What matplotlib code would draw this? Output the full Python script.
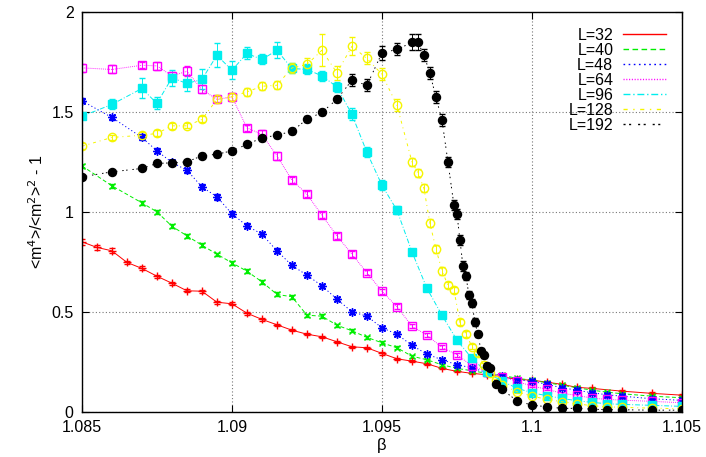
import numpy as np
import matplotlib
matplotlib.use('Agg')
import matplotlib.pyplot as plt
from matplotlib.lines import Line2D

plt.rcParams['font.family'] = ['Liberation Sans', 'DejaVu Sans']

# beta grids
beta_coarse = [1.085, 1.086, 1.087, 1.0875, 1.088, 1.0885, 1.089, 1.0895, 1.09, 1.0905,
               1.091, 1.0915, 1.092, 1.0925, 1.093, 1.0935, 1.094, 1.0945, 1.095, 1.0955, 1.096]
beta_tail = [1.0995, 1.1, 1.1005, 1.101, 1.1015, 1.102, 1.1025, 1.103, 1.104, 1.105]

beta_32 = [1.085, 1.0855, 1.086, 1.0865, 1.087, 1.0875, 1.088, 1.0885, 1.089, 1.0895, 1.09,
           1.0905, 1.091, 1.0915, 1.092, 1.0925, 1.093, 1.0935, 1.094, 1.0945, 1.095, 1.0955,
           1.096, 1.0965, 1.097, 1.0975, 1.098, 1.0985, 1.099, 1.0995, 1.1, 1.1005, 1.101,
           1.1015, 1.102, 1.103, 1.104, 1.105]
u_32 = [0.85, 0.822, 0.805, 0.747, 0.717, 0.678, 0.643, 0.605, 0.603, 0.548, 0.54,
        0.493, 0.462, 0.435, 0.408, 0.388, 0.375, 0.35, 0.325, 0.32, 0.292, 0.265,
        0.253, 0.24, 0.217, 0.202, 0.192, 0.185, 0.175, 0.162, 0.158, 0.148, 0.137,
        0.122, 0.117, 0.103, 0.092, 0.083]
e_32 = [0.015, 0.012, 0.012, 0.008, 0.01, 0.008, 0.008, 0.008, 0.008, 0.008, 0.008,
        0.008, 0.008, 0.006, 0.006, 0.006, 0.006, 0.006, 0.006, 0.006, 0.006, 0.006,
        0.006, 0.005, 0.005, 0.005, 0.005, 0.005, 0.005, 0.005, 0.005, 0.005, 0.005,
        0.005, 0.005, 0.005, 0.005, 0.005]

beta_mid = beta_coarse + [1.0965, 1.097, 1.0975, 1.098, 1.0985, 1.099] + beta_tail

u_40 = [1.23, 1.13, 1.045, 1.0, 0.928, 0.88, 0.833, 0.788, 0.745, 0.703, 0.65, 0.587,
        0.575, 0.483, 0.478, 0.433, 0.405, 0.372, 0.345, 0.32, 0.278, 0.26, 0.235,
        0.217, 0.205, 0.192, 0.183, 0.167, 0.158, 0.145, 0.133, 0.12, 0.108, 0.098,
        0.09, 0.078, 0.07]
e_40 = [0.01, 0.01, 0.01, 0.01, 0.01, 0.01, 0.01, 0.008, 0.01, 0.01, 0.01, 0.01,
        0.01, 0.008, 0.01, 0.008, 0.008, 0.008, 0.008, 0.008, 0.008, 0.006, 0.006,
        0.006, 0.005, 0.005, 0.005, 0.005, 0.005, 0.005, 0.005, 0.005, 0.005, 0.005,
        0.005, 0.005, 0.005]

u_48 = [1.555, 1.472, 1.372, 1.305, 1.247, 1.208, 1.125, 1.075, 0.99, 0.93, 0.888,
        0.805, 0.732, 0.683, 0.63, 0.563, 0.5, 0.478, 0.42, 0.388, 0.332, 0.288, 0.26,
        0.235, 0.22, 0.195, 0.178, 0.16, 0.152, 0.137, 0.12, 0.108, 0.095, 0.085, 0.078,
        0.065, 0.057]
e_48 = [0.012, 0.012, 0.015, 0.012, 0.012, 0.012, 0.012, 0.015, 0.012, 0.012, 0.01,
        0.012, 0.01, 0.01, 0.01, 0.01, 0.01, 0.008, 0.008, 0.008, 0.008, 0.008, 0.008,
        0.006, 0.006, 0.006, 0.006, 0.006, 0.005, 0.005, 0.005, 0.005, 0.005, 0.005,
        0.005, 0.005, 0.005]

u_64 = [1.72, 1.712, 1.733, 1.73, 1.68, 1.703, 1.612, 1.562, 1.575, 1.42, 1.387, 1.28,
        1.159, 1.088, 0.983, 0.88, 0.788, 0.695, 0.603, 0.525, 0.428, 0.383, 0.322,
        0.285, 0.23, 0.2, 0.175, 0.152, 0.128, 0.113, 0.092, 0.082, 0.068, 0.062, 0.058,
        0.052, 0.045]
e_64 = [0.02, 0.02, 0.015, 0.02, 0.02, 0.025, 0.02, 0.015, 0.02, 0.015, 0.02, 0.02,
        0.015, 0.015, 0.015, 0.015, 0.015, 0.012, 0.012, 0.012, 0.01, 0.01, 0.01,
        0.01, 0.008, 0.008, 0.008, 0.008, 0.006, 0.006, 0.006, 0.006, 0.006, 0.006,
        0.006, 0.006, 0.006]

u_96 = [1.478, 1.537, 1.617, 1.542, 1.67, 1.642, 1.662, 1.783, 1.708, 1.792, 1.762,
        1.808, 1.717, 1.712, 1.68, 1.625, 1.487, 1.297, 1.133, 1.008, 0.8, 0.617, 0.483,
        0.358, 0.267, 0.197, 0.153, 0.118, 0.095, 0.08, 0.067, 0.055, 0.047, 0.04, 0.037,
        0.032, 0.027]
e_96 = [0.01, 0.025, 0.05, 0.03, 0.04, 0.04, 0.05, 0.06, 0.045, 0.03, 0.025, 0.04,
        0.025, 0.025, 0.025, 0.025, 0.03, 0.025, 0.025, 0.02, 0.015, 0.015, 0.012,
        0.01, 0.01, 0.008, 0.006, 0.006, 0.006, 0.005, 0.005, 0.005, 0.005, 0.005,
        0.005, 0.005, 0.005]

beta_128 = beta_coarse + [1.0962, 1.0964, 1.0966, 1.0968, 1.097, 1.0972, 1.0974, 1.0976,
                          1.0978, 1.098, 1.0982, 1.0984, 1.0986, 1.0988, 1.099] + beta_tail
u_128 = [1.328, 1.372, 1.383, 1.392, 1.43, 1.43, 1.462, 1.562, 1.575, 1.6, 1.628, 1.633,
         1.72, 1.737, 1.808, 1.695, 1.828, 1.767, 1.688, 1.533, 1.25, 1.195, 1.117, 0.942,
         0.815, 0.705, 0.633, 0.61, 0.447, 0.39, 0.325, 0.292, 0.233, 0.195, 0.158, 0.135,
         0.1, 0.078, 0.062, 0.05, 0.04, 0.03, 0.025, 0.022, 0.018, 0.015]
e_128 = [0.015, 0.012, 0.015, 0.015, 0.015, 0.012, 0.015, 0.02, 0.02, 0.02, 0.02, 0.02,
         0.025, 0.03, 0.08, 0.035, 0.045, 0.03, 0.03, 0.03, 0.02, 0.02, 0.02, 0.02,
         0.02, 0.02, 0.015, 0.015, 0.015, 0.015, 0.012, 0.012, 0.01, 0.01, 0.008, 0.008,
         0.006, 0.006, 0.005, 0.005, 0.005, 0.005, 0.005, 0.005, 0.005, 0.005]

beta_192 = beta_coarse + [1.0962, 1.0964, 1.0966, 1.0968, 1.097, 1.0972, 1.0974, 1.0975,
                          1.0976, 1.0977, 1.0978, 1.0979, 1.098, 1.0981, 1.0982, 1.0983,
                          1.0984, 1.0985, 1.0986, 1.0988, 1.099] + beta_tail
u_192 = [1.175, 1.2, 1.217, 1.242, 1.245, 1.25, 1.28, 1.288, 1.305, 1.337, 1.37, 1.383,
         1.403, 1.463, 1.497, 1.563, 1.658, 1.633, 1.795, 1.812, 1.847, 1.847, 1.783,
         1.693, 1.572, 1.46, 1.248, 1.033, 0.99, 0.858, 0.728, 0.678, 0.583, 0.542, 0.447,
         0.387, 0.305, 0.283, 0.23, 0.22, 0.137, 0.112, 0.055, 0.033, 0.025, 0.017, 0.017,
         0.013, 0.01, 0.01, 0.008, 0.008]
e_192 = [0.01, 0.01, 0.01, 0.01, 0.01, 0.01, 0.012, 0.012, 0.012, 0.012, 0.015, 0.012,
         0.015, 0.015, 0.015, 0.015, 0.03, 0.03, 0.035, 0.03, 0.04, 0.04, 0.03,
         0.03, 0.03, 0.03, 0.025, 0.025, 0.025, 0.025, 0.025, 0.02, 0.02, 0.02, 0.02,
         0.015, 0.015, 0.015, 0.012, 0.01, 0.008, 0.006, 0.005, 0.005, 0.005, 0.005, 0.005,
         0.005, 0.005, 0.005, 0.005, 0.005]

labels = ['L=32', 'L=40', 'L=48', 'L=64', 'L=96', 'L=128', 'L=192']
series = [(beta_32, u_32, e_32), (beta_mid, u_40, e_40), (beta_mid, u_48, e_48),
          (beta_mid, u_64, e_64), (beta_mid, u_96, e_96), (beta_128, u_128, e_128),
          (beta_192, u_192, e_192)]

colors = ['#ff0000', '#00ee00', '#0000ff', '#ff00ff', '#00eeee', '#f5f500', '#000000']
lstyles = ['-', (0, (4, 2.5)), (0, (1.2, 2.5)), (0, (0.8, 1.2)), (0, (5, 2, 1, 2)),
           (0, (3, 4, 1, 4)), (0, (1.5, 2.5, 1.5, 5))]
markers = ['+', 'x', (8, 2, 0), 's', 's', 'o', 'o']
mfcs = ['#ff0000', '#00ee00', '#0000ff', 'none', '#00eeee', 'none', '#000000']
msizes = [6, 5, 6, 5.5, 5.8, 6, 5.8]

fig = plt.figure(figsize=(7.06, 4.57), dpi=100)
ax = fig.add_axes([0.116, 0.099, 0.850, 0.875])

for (b, u, e), c, ls, m, mfc, ms in zip(series, colors, lstyles, markers, mfcs, msizes):
    ax.errorbar(b, u, yerr=e, color=c, ls=ls, lw=0.7, marker=m, mfc=mfc, mec=c,
                ms=ms, mew=1.0, elinewidth=0.7, capsize=2, capthick=0.7)

handles = [Line2D([], [], color=c, ls=ls, lw=1.0) for c, ls in zip(colors, lstyles)]
ax.legend(handles, labels, loc='upper right', frameon=False, markerfirst=False,
          handlelength=2.7, handletextpad=0.6, labelspacing=0.0, fontsize=11.5,
          borderaxespad=0.6, bbox_to_anchor=(1.0, 1.0))

ax.set_xlim(1.085, 1.105)
ax.set_ylim(0, 2)
ax.set_xticks([1.085, 1.09, 1.095, 1.1, 1.105])
ax.set_xticklabels(['1.085', '1.09', '1.095', '1.1', '1.105'])
ax.set_yticks([0, 0.5, 1, 1.5, 2])
ax.set_yticklabels(['0', '0.5', '1', '1.5', '2'])
ax.tick_params(direction='in', top=True, right=True, length=5, labelsize=11.5, pad=6)
ax.grid(True, color='#777777', ls=(0, (1, 2)), lw=0.8)
for s in ax.spines.values():
    s.set_linewidth(1.0)

ax.set_xlabel('β', fontsize=12, labelpad=2)
ax.set_ylabel(r'<m$^4$>/<m$^2$>$^2$ - 1', fontsize=11.5, labelpad=4)

fig.savefig('out.png', dpi=100)
